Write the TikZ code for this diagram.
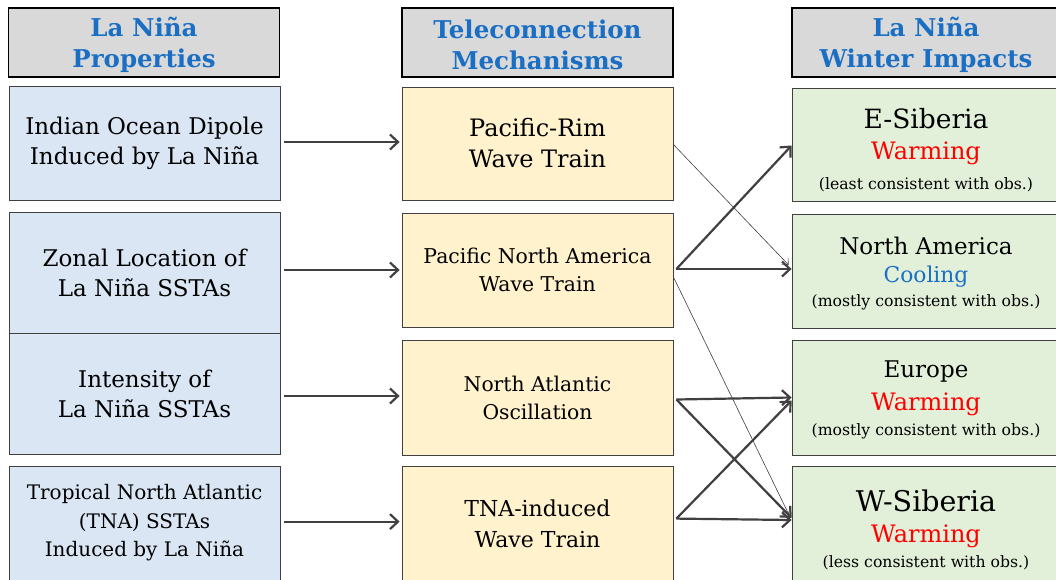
\documentclass[tikz,border=0pt]{standalone}
\usepackage{fontspec}
\setmainfont{DejaVu Serif}
\usetikzlibrary{arrows.meta,calc}
\definecolor{hdrfill}{HTML}{D9D9D9}
\definecolor{hdrtext}{HTML}{1A6FC4}
\definecolor{bluefill}{HTML}{DAE6F4}
\definecolor{yelfill}{HTML}{FFF2CC}
\definecolor{grnfill}{HTML}{E2F0D9}
\definecolor{arrowgray}{HTML}{404040}
\definecolor{coolblue}{HTML}{1A6FC4}
\begin{document}
\begin{tikzpicture}[x=1pt,y=-1pt,
  hdr/.style={draw=black,line width=1.6pt,fill=hdrfill,minimum width=271pt,minimum height=69pt,inner sep=0pt},
  hdrtxt/.style={inner sep=0pt,align=center,text=hdrtext,font=\fontsize{24.5}{31}\selectfont\bfseries},
  lbox/.style={draw=black!75,line width=0.8pt,fill=bluefill,minimum width=271pt,inner sep=0pt,align=center,font=\fontsize{23}{30}\selectfont},
  mbox/.style={draw=black!75,line width=0.8pt,fill=yelfill,minimum width=271pt,inner sep=0pt,align=center},
  rbox/.style={draw=black!75,line width=0.8pt,fill=grnfill,minimum width=268pt,inner sep=0pt,align=center},
  thick arrow/.style={draw=arrowgray,line width=2.2pt,-{Straight Barb[length=8pt,width=15pt,line width=2.2pt]}},
  thin arrow/.style={draw=arrowgray,line width=0.6pt,-{Straight Barb[length=5pt,width=9pt,line width=0.6pt]}},
  txt/.style={inner sep=0pt,align=center}
]
\useasboundingbox[fill=white] (0,0) rectangle (1056,580);
% headers
\node[hdr] (H1) at (144,42.5) {};
\node[hdrtxt] (H1t) at (144,44.5) {La Niña\\Properties};
\node[hdr] (H2) at (537.5,42.5) {};
\node[hdrtxt] (H2t) at (537.5,44.5) {Teleconnection\\Mechanisms};
\node[hdr,minimum width=272pt] (H3) at (928,42.5) {};
\node[hdrtxt] (H3t) at (926,44.5) {La Niña\\Winter Impacts};
% left column
\node[lbox,minimum height=114pt] (L1) at (144.5,143) {Indian Ocean Dipole\\Induced by La Niña};
\node[lbox,minimum height=121pt] (L2) at (144.5,272.5) {Zonal Location of\\La Niña SSTAs};
\node[lbox,minimum height=121pt] (L3) at (144.5,393.5) {Intensity of\\La Niña SSTAs};
\node[lbox,minimum height=130pt] (L4) at (144.5,531) {};
\node[txt,font=\fontsize{20}{28.5}\selectfont] (L4t) at (144.5,523) {Tropical North Atlantic\\(TNA) SSTAs\\Induced by La Niña};
% middle column
\node[mbox,minimum height=113pt,font=\fontsize{24}{31}\selectfont] (M1) at (537.5,143.5) {Pacific-Rim\\Wave Train};
\node[mbox,minimum height=114pt,font=\fontsize{20.4}{28}\selectfont] (M2) at (537.5,270) {Pacific North America\\Wave Train};
\node[mbox,minimum height=115pt,font=\fontsize{20.3}{28}\selectfont] (M3) at (537.5,397.5) {North Atlantic\\Oscillation};
\node[mbox,minimum height=130pt] (M4) at (537.5,531) {};
\node[txt,font=\fontsize{22}{31}\selectfont] (M4t) at (537.5,524) {TNA-induced\\Wave Train};
% right column
\node[rbox,minimum height=113pt] (R1) at (926,144.5) {};
\node[txt,font=\fontsize{26.5}{30}\selectfont] (R1a) at (926,119) {E-Siberia};
\node[txt,font=\fontsize{24}{28}\selectfont,text=red] (R1b) at (926,153) {Warming};
\node[txt,font=\fontsize{15.7}{18}\selectfont] (R1c) at (926,185) {(least consistent with obs.)};
\node[rbox,minimum height=114pt] (R2) at (926,271) {};
\node[txt,font=\fontsize{23}{28}\selectfont] (R2a) at (926,246) {North America};
\node[txt,font=\fontsize{21.8}{26}\selectfont,text=coolblue] (R2b) at (926,277) {Cooling};
\node[txt,font=\fontsize{15.7}{18}\selectfont] (R2c) at (926,302) {(mostly consistent with obs.)};
\node[rbox,minimum height=115pt] (R3) at (926,397.5) {};
\node[txt,font=\fontsize{23}{28}\selectfont] (R3a) at (926,372) {Europe};
\node[txt,font=\fontsize{24}{28}\selectfont,text=red] (R3b) at (926,404) {Warming};
\node[txt,font=\fontsize{15.7}{18}\selectfont] (R3c) at (926,431) {(mostly consistent with obs.)};
\node[rbox,minimum height=130pt] (R4) at (926,531) {};
\node[txt,font=\fontsize{28.5}{32}\selectfont] (R4a) at (926,501) {W-Siberia};
\node[txt,font=\fontsize{24}{28}\selectfont,text=red] (R4b) at (926,536) {Warming};
\node[txt,font=\fontsize{15.7}{18}\selectfont] (R4c) at (926,563) {(less consistent with obs.)};
% left to middle arrows
\coordinate (L4e) at ($(L4.north east)+(0,56)$);
\coordinate (M4w) at ($(M4.north west)+(0,56)$);
\coordinate (M4e) at ($(M4.north east)+(3,53)$);
\draw[thick arrow] ($(L1.east)+(4,-1)$) -- ($(M1.west)+(-2,-1.5)$);
\draw[thick arrow] ($(L2.east)+(4,-2.5)$) -- ($(M2.west)+(-2,0)$);
\draw[thick arrow] ($(L3.east)+(4,2.5)$) -- ($(M3.west)+(-2,-1.5)$);
\draw[thick arrow] ($(L4e)+(4,0)$) -- ($(M4w)+(-2,0)$);
% middle to right arrows
\coordinate (M2e) at ($(M2.east)+(3,-1)$);
\coordinate (M3e) at ($(M3.east)+(3,2)$);
\draw[thin arrow] ($(M1.east)+(0,1)$) -- ($(R2.west)+(-3,-6)$);
\draw[thin arrow] ($(M2.east)+(0,7)$) -- ($(R4.west)+(-3,-17)$);
\draw[thick arrow] (M2e) -- ($(R1.west)+(0,1)$);
\draw[thick arrow] (M2e) -- ($(R2.west)+(0,-2)$);
\draw[thick arrow] (M3e) -- ($(R3.west)+(0,0)$);
\draw[thick arrow] (M3e) -- ($(R4.west)+(0,-13)$);
\draw[thick arrow] (M4e) -- ($(R3.west)+(0,3)$);
\draw[thick arrow] (M4e) -- ($(R4.west)+(0,-11)$);
\end{tikzpicture}
\end{document}
